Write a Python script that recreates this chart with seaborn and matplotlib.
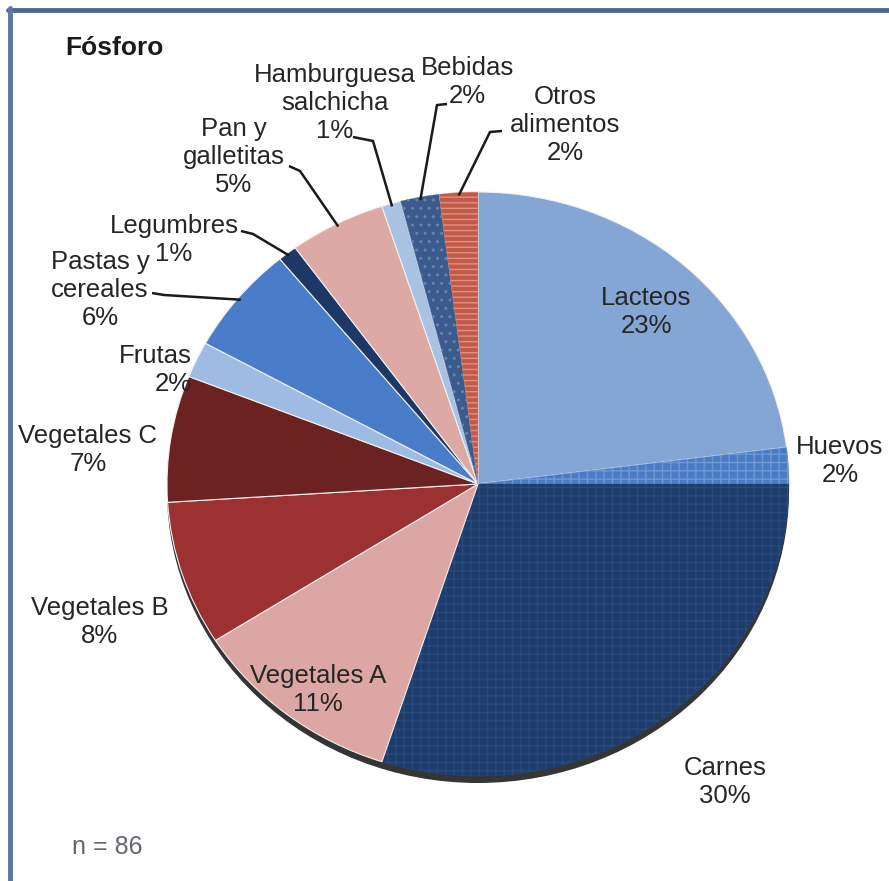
import matplotlib
matplotlib.use("Agg")
import matplotlib.pyplot as plt
from matplotlib.patches import Ellipse
from matplotlib.lines import Line2D
import numpy as np
import seaborn as sns

# data (percent of phosphorus intake)
categories = ["Lacteos", "Huevos", "Carnes", "Vegetales A", "Vegetales B",
              "Vegetales C", "Frutas", "Pastas y\ncereales", "Legumbres",
              "Pan y\ngalletitas", "Hamburguesa\nsalchicha", "Bebidas",
              "Otros\nalimentos"]
values = [23, 2, 30, 11, 8, 7, 2, 6, 1, 5, 1, 2, 2]

colors = ["#84a6d4", "#4a7cc6", "#1f3d6c", "#dba6a3", "#9b3131",
          "#6c2220", "#9dbbe3", "#4a7dc9", "#1d3866", "#dca9a5",
          "#a9c2e2", "#3b5b8c", "#c25a48"]
hatches = [None, "++", "++", None, None, None, None, None, None, None,
           None, "..", "---"]
hatch_colors = [None, "#6f97d8", "#284a7c", None, None, None, None, None,
                None, None, None, "#6683b0", "#e09080"]

# label placement in pixels (x, y of text centre), alignment
label_pos = [(646, 312, "center"), (840, 461, "center"), (725, 782, "center"),
             (318, 690, "center"), (100, 622, "center"), (88, 450, "center"),
             (192, 370, "right"), (100, 290, "center"), (174, 240, "center"),
             (234, 157, "center"), (335, 103, "center"), (467, 82, "center"),
             (565, 125, "center")]
# leader lines: start point and elbow in pixels (None = no leader)
leaders = [None, None, None, None, None, None, None,
           ((152, 293), (164, 295)), ((241, 231), (253, 234)),
           ((289, 166), (300, 171)), ((353, 137), (373, 141)),
           ((447, 104), (437, 105)), ((502, 131), (490, 132))]

W, H = 889, 881
CX, CY, RX, RY = 478, 484, 311, 292
LINE_H = 28  # px between label lines


def px2data(px, py):
    return (px - CX) / RX, (CY - py) / RY


sns.set_theme(style="white")
plt.rcParams["font.family"] = ["Liberation Sans", "DejaVu Sans"]

fig = plt.figure(figsize=(W / 100, H / 100), dpi=100)
ax = fig.add_axes([0, 0, 1, 1])

# dark rim under the pie
ax.add_patch(Ellipse((0.0, -0.024), 2.0, 2.0, facecolor="#111111",
                     alpha=0.85, edgecolor="none", zorder=0))

wedges, _ = ax.pie(values, colors=colors, startangle=90, counterclock=False,
                   radius=1, center=(0, 0),
                   wedgeprops=dict(linewidth=0.8, edgecolor="#f0f0f0"))
for w, h, hc in zip(wedges, hatches, hatch_colors):
    w.set_zorder(2)
    if h:
        w.set_hatch(h)
        w.set_edgecolor(hc)
        w.set_linewidth(0.3)

ax.set_xlim(-CX / RX, (W - CX) / RX)
ax.set_ylim(-(H - CY) / RY, CY / RY)
ax.set_aspect("auto")
ax.axis("off")

txt_color = "#262626"
for cat, val, (px, py, ha) in zip(categories, values, label_pos):
    lines = cat.split("\n") + [f"{val}%"]
    top = py - LINE_H * (len(lines) - 1) / 2
    for i, line in enumerate(lines):
        x, y = px2data(px, top + i * LINE_H)
        ax.text(x, y, line, ha=ha, va="center", fontsize=18.5,
                color=txt_color, zorder=5)

for w, ld in zip(wedges, leaders):
    if ld is None:
        continue
    mid = np.deg2rad((w.theta1 + w.theta2) / 2)
    end = (0.99 * np.cos(mid), 0.99 * np.sin(mid))
    p0 = px2data(*ld[0])
    p1 = px2data(*ld[1])
    ax.plot([p0[0], p1[0], end[0]], [p0[1], p1[1], end[1]],
            color="#1a1a1a", lw=1.8, zorder=4, solid_capstyle="butt")

x, y = px2data(65, 48)
ax.text(x, y, "Fósforo", ha="left", va="center", fontsize=19,
        fontweight="bold", color="#1a1a1a")
x, y = px2data(72, 847)
ax.text(x, y, "n = 86", ha="left", va="center", fontsize=18,
        color="#666670")

# frame: only top and left edges are visible in the reference
fig.add_artist(Line2D([8 / W, 1], [1 - 10 / H, 1 - 10 / H],
                      transform=fig.transFigure, color="#4d6890", lw=3.5))
fig.add_artist(Line2D([9.5 / W, 9.5 / W], [0, 1 - 8 / H],
                      transform=fig.transFigure, color="#5c78a0", lw=3.5))

fig.savefig("out.png", dpi=100)
